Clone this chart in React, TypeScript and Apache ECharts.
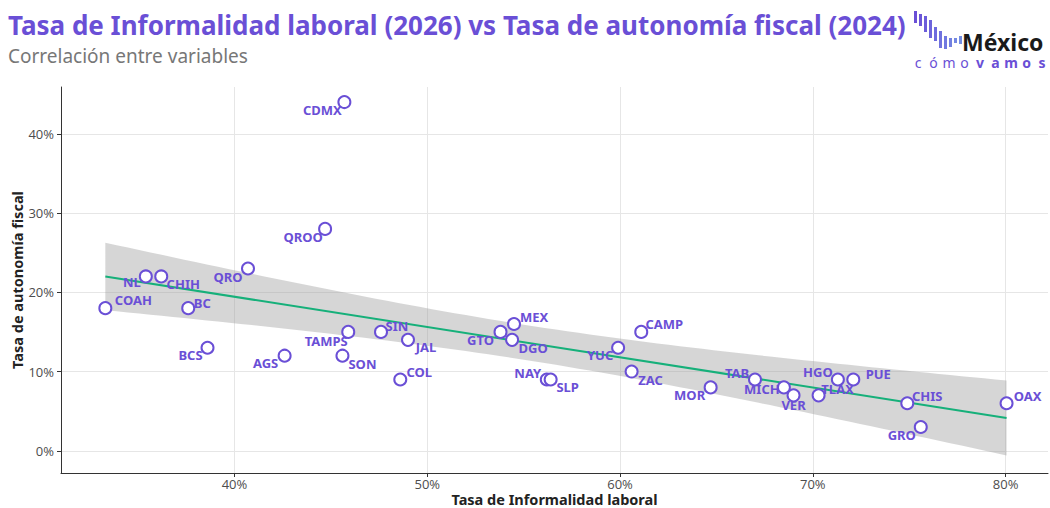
import React, { useEffect, useRef } from "react";
import * as echarts from "echarts";

// ---- Data ----
const states = [
  "CDMX", "QROO", "QRO", "NL", "CHIH", "COAH", "BC", "BCS", "AGS", "TAMPS", "SON",
  "SIN", "JAL", "COL", "GTO", "MEX", "DGO", "NAY", "SLP", "YUC", "CAMP", "ZAC",
  "MOR", "TAB", "MICH", "VER", "TLAX", "HGO", "PUE", "CHIS", "GRO", "OAX",
];
const informalidad = [
  45.7, 44.7, 40.7, 35.4, 36.2, 33.3, 37.6, 38.6, 42.6, 45.9, 45.6,
  47.6, 49.0, 48.6, 53.8, 54.5, 54.4, 56.2, 56.4, 59.9, 61.1, 60.6,
  64.7, 67.0, 68.5, 69.0, 70.3, 71.3, 72.1, 74.9, 75.6, 80.05,
];
const autonomia = [
  44, 28, 23, 22, 22, 18, 18, 13, 12, 15, 12,
  15, 14, 9, 15, 16, 14, 9, 9, 13, 15, 10,
  8, 9, 8, 7, 7, 9, 9, 6, 3, 6,
];
const xTicks = [40, 50, 60, 70, 80];
const yTicks = [0, 10, 20, 30, 40];

// ---- Layout (label placement, px offsets from the point) ----
const labelOffsets: Record<string, [number, number]> = {
  CDMX: [-22, 8], QROO: [-22, 8], QRO: [-20, 8], NL: [-14, 6], CHIH: [22, 8],
  COAH: [28, -8], BC: [14, -5], BCS: [-17, 7], AGS: [-19, 7], TAMPS: [-22, 9],
  SON: [20, 8], SIN: [16, -6], JAL: [18, 7], COL: [19, -7], GTO: [-20, 8],
  MEX: [20, -7], DGO: [21, 8], NAY: [-19, -6], SLP: [17, 8], YUC: [-18, 7],
  CAMP: [23, -8], ZAC: [19, 8], MOR: [-21, 8], TAB: [-18, -6], MICH: [-22, 2],
  VER: [0, 10], TLAX: [19, -6], HGO: [-20, -7], PUE: [25, -5], CHIS: [20, -7],
  GRO: [-19, 8], OAX: [21, -7],
};

const PURPLE = "#6a4fd6";

// ---- Linear regression with 95% confidence band (like geom_smooth(method = "lm")) ----
function regression() {
  const n = informalidad.length;
  const xbar = informalidad.reduce((a, b) => a + b, 0) / n;
  const ybar = autonomia.reduce((a, b) => a + b, 0) / n;
  let sxx = 0, sxy = 0;
  for (let i = 0; i < n; i++) {
    sxx += (informalidad[i] - xbar) ** 2;
    sxy += (informalidad[i] - xbar) * (autonomia[i] - ybar);
  }
  const b = sxy / sxx;
  const a = ybar - b * xbar;
  let sse = 0;
  for (let i = 0; i < n; i++) sse += (autonomia[i] - (a + b * informalidad[i])) ** 2;
  const s = Math.sqrt(sse / (n - 2));
  const t = 2.042;
  const xmin = Math.min(...informalidad);
  const xmax = Math.max(...informalidad);
  const steps = 80;
  const upper: number[][] = [];
  const lower: number[][] = [];
  for (let k = 0; k <= steps; k++) {
    const x = xmin + ((xmax - xmin) * k) / steps;
    const fit = a + b * x;
    const se = s * Math.sqrt(1 / n + (x - xbar) ** 2 / sxx);
    upper.push([x, fit + t * se]);
    lower.push([x, fit - t * se]);
  }
  return { line: [[xmin, a + b * xmin], [xmax, a + b * xmax]], upper, lower };
}

export default function App() {
  const ref = useRef<HTMLDivElement>(null);
  useEffect(() => {
    const chart = echarts.init(ref.current!, null, { renderer: "svg" });
    const reg = regression();
    const fontFamily = "Noto Sans";
    const tickFont = "Open Sans";

    const logoBars = [
      [914, 11, 23], [919, 14, 26], [924, 16, 32], [929, 20, 38], [934, 27, 41],
      [939, 31, 48], [944, 36, 49], [949, 38, 47], [954, 38, 43], [959, 36, 44],
    ];
    const barColors = ["#6a4fd6", "#6b56d8", "#6c5dda", "#6d64dc", "#6e6bde", "#7072df", "#7179e0", "#7280e1", "#7387e2", "#748ee3"];
    const logoChars = ["c", "ó", "m", "o", "v", "a", "m", "o", "s"];

    const graphic: any[] = [];
    logoBars.forEach((b, i) => {
      graphic.push({
        type: "rect",
        shape: { x: b[0], y: b[1], width: 3, height: b[2] - b[1] },
        style: { fill: barColors[i] },
      });
    });
    graphic.push({
      type: "text",
      x: 962,
      y: 42,
      style: {
        text: "México",
        fill: "#1a1a1a",
        font: `bold 23px ${fontFamily}`,
        lineHeight: 22,
        textVerticalAlign: "middle",
        textAlign: "left",
      },
    });
    logoChars.forEach((c, i) => {
      graphic.push({
        type: "text",
        x: 918 + i * 15.5,
        y: 62,
        style: {
          text: c,
          fill: PURPLE,
          font: `${i < 4 ? "normal" : "bold"} 14px ${fontFamily}`,
          lineHeight: 14,
          textAlign: "center",
          textVerticalAlign: "middle",
        },
      });
    });

    const option: any = {
      animation: false,
      backgroundColor: "#ffffff",
      title: {
        text: "Tasa de Informalidad laboral (2026) vs Tasa de autonomía fiscal (2024)",
        subtext: "Correlación entre variables",
        left: 3,
        top: 7,
        itemGap: 8,
        textStyle: { fontFamily, fontSize: 26, fontWeight: "bold", color: PURPLE },
        subtextStyle: { fontFamily, fontSize: 19, color: "#777777" },
      },
      grid: { left: 61, right: 2, top: 87, bottom: 35, containLabel: false, outerBoundsMode: "none" },
      xAxis: {
        type: "value",
        min: 31,
        max: 82.2,
        name: "Tasa de Informalidad laboral",
        nameLocation: "middle",
        nameGap: 18,
        nameMoveOverlap: false,
        nameTextStyle: { fontFamily, fontSize: 14.5, fontWeight: "bold", color: "#222", verticalAlign: "top", lineHeight: 15 },
        axisLine: { show: true, onZero: false, lineStyle: { color: "#333", width: 1 } },
        axisTick: { show: true, length: 4, customValues: xTicks, lineStyle: { color: "#333" } },
        axisLabel: {
          customValues: xTicks,
          formatter: (v: number) => `${Math.round(v)}%`,
          fontFamily: tickFont,
          fontSize: 13,
          lineHeight: 13,
          color: "#4d4d4d",
          margin: 4,
        },
        splitLine: { show: true, lineStyle: { color: "#e6e6e6", width: 1 } },
      },
      yAxis: {
        type: "value",
        min: -2.8,
        max: 45.9,
        name: "Tasa de autonomía fiscal",
        nameLocation: "middle",
        nameGap: 37,
        nameMoveOverlap: false,
        nameTextStyle: { fontFamily, fontSize: 14.5, fontWeight: "bold", color: "#222" },
        axisLine: { show: true, onZero: false, lineStyle: { color: "#333", width: 1 } },
        axisTick: { show: true, length: 4, customValues: yTicks, lineStyle: { color: "#333" } },
        axisLabel: {
          customValues: yTicks,
          formatter: (v: number) => `${Math.round(v)}%`,
          fontFamily: tickFont,
          fontSize: 13,
          color: "#4d4d4d",
          margin: 7,
        },
        splitLine: { show: true, lineStyle: { color: "#e6e6e6", width: 1 } },
      },
      series: [
        {
          type: "custom",
          z: 1,
          silent: true,
          data: [0],
          renderItem: (_p: any, api: any) => {
            const pts = [
              ...reg.upper.map((p) => api.coord(p)),
              ...reg.lower.slice().reverse().map((p) => api.coord(p)),
            ];
            return {
              type: "polygon",
              shape: { points: pts },
              style: { fill: "rgba(153,153,153,0.4)" },
            };
          },
        },
        {
          type: "line",
          z: 2,
          data: reg.line,
          showSymbol: false,
          symbol: "none",
          lineStyle: { color: "#16b07a", width: 2 },
          silent: true,
        },
        {
          type: "scatter",
          z: 3,
          symbol: "circle",
          symbolSize: 12,
          itemStyle: { color: "#ffffff", borderColor: PURPLE, borderWidth: 2, opacity: 1 },
          label: {
            show: true,
            position: "inside",
            formatter: (p: any) => p.name,
            fontFamily,
            fontSize: 13,
            fontWeight: "bold",
            color: PURPLE,
          },
          data: states.map((s, i) => ({
            name: s,
            value: [informalidad[i], autonomia[i]],
            label: { offset: labelOffsets[s] },
          })),
        },
      ],
      graphic,
    };
    chart.setOption(option);
    return () => chart.dispose();
  }, []);
  return (
    <div
      ref={ref}
      style={{ position: "fixed", left: 0, top: 0, width: 1050, height: 508 }}
    />
  );
}
